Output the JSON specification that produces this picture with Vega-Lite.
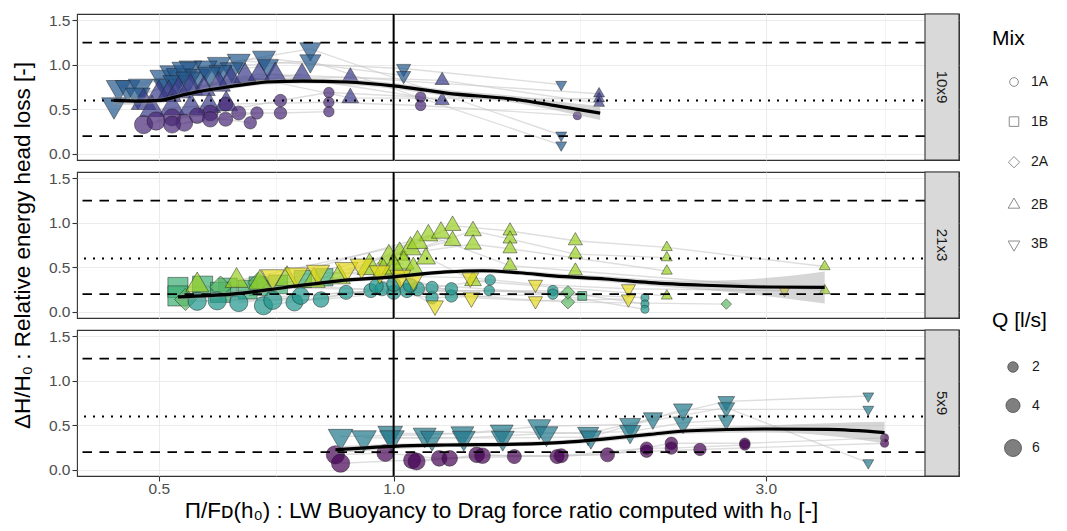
{
"$schema": "https://vega.github.io/schema/vega-lite/v6.json",
"padding": {"left": 10, "top": 12, "right": 0, "bottom": 0},
"background": "white",
"bounds": "flush",
"spacing": 12,
"resolve": {"scale": {"color": "shared", "shape": "shared", "size": "shared"}},
"datasets": {
"pts": [
{"mesh":"10x9","Mix":"3B","grp":"10x9 3B","run":"a1","Q":7,"ratio":0.438,"dH":0.55},
{"mesh":"10x9","Mix":"3B","grp":"10x9 3B","run":"a1","Q":6,"ratio":0.633,"dH":1.045},
{"mesh":"10x9","Mix":"3B","grp":"10x9 3B","run":"a1","Q":2,"ratio":1.03,"dH":0.96},
{"mesh":"10x9","Mix":"3B","grp":"10x9 3B","run":"a1","Q":1,"ratio":1.64,"dH":0.78},
{"mesh":"10x9","Mix":"3B","grp":"10x9 3B","run":"a2","Q":7,"ratio":0.444,"dH":0.745},
{"mesh":"10x9","Mix":"3B","grp":"10x9 3B","run":"a2","Q":6,"ratio":0.597,"dH":1.01},
{"mesh":"10x9","Mix":"3B","grp":"10x9 3B","run":"a2","Q":5,"ratio":0.782,"dH":1.18},
{"mesh":"10x9","Mix":"3B","grp":"10x9 3B","run":"a2","Q":1,"ratio":1.64,"dH":0.21},
{"mesh":"10x9","Mix":"3B","grp":"10x9 3B","run":"a3","Q":7,"ratio":0.456,"dH":0.745},
{"mesh":"10x9","Mix":"3B","grp":"10x9 3B","run":"a3","Q":6,"ratio":0.574,"dH":0.97},
{"mesh":"10x9","Mix":"3B","grp":"10x9 3B","run":"a3","Q":5,"ratio":0.782,"dH":1.045},
{"mesh":"10x9","Mix":"3B","grp":"10x9 3B","run":"a3","Q":1,"ratio":1.64,"dH":0.1},
{"mesh":"10x9","Mix":"3B","grp":"10x9 3B","run":"a4","Q":7,"ratio":0.474,"dH":0.76},
{"mesh":"10x9","Mix":"3B","grp":"10x9 3B","run":"a4","Q":6,"ratio":0.549,"dH":0.97},
{"mesh":"10x9","Mix":"3B","grp":"10x9 3B","run":"a4","Q":6,"ratio":0.682,"dH":1.08},
{"mesh":"10x9","Mix":"3B","grp":"10x9 3B","run":"a4","Q":2,"ratio":1.03,"dH":0.88},
{"mesh":"10x9","Mix":"3B","grp":"10x9 3B","run":"a5","Q":7,"ratio":0.505,"dH":0.86},
{"mesh":"10x9","Mix":"3B","grp":"10x9 3B","run":"a5","Q":5,"ratio":0.69,"dH":0.99},
{"mesh":"10x9","Mix":"3B","grp":"10x9 3B","run":"a6","Q":7,"ratio":0.52,"dH":0.91},
{"mesh":"10x9","Mix":"3B","grp":"10x9 3B","run":"a6","Q":6,"ratio":0.62,"dH":0.95},
{"mesh":"10x9","Mix":"3B","grp":"10x9 3B","run":"a7","Q":7,"ratio":0.53,"dH":0.88},
{"mesh":"10x9","Mix":"3B","grp":"10x9 3B","run":"a7","Q":6,"ratio":0.6,"dH":0.92},
{"mesh":"10x9","Mix":"3B","grp":"10x9 3B","run":"a8","Q":7,"ratio":0.539,"dH":0.95},
{"mesh":"10x9","Mix":"3B","grp":"10x9 3B","run":"a9","Q":7,"ratio":0.47,"dH":0.66},
{"mesh":"10x9","Mix":"3B","grp":"10x9 3B","run":"a9","Q":7,"ratio":0.56,"dH":0.87},
{"mesh":"10x9","Mix":"3B","grp":"10x9 3B","run":"a10","Q":7,"ratio":0.51,"dH":0.76},
{"mesh":"10x9","Mix":"3B","grp":"10x9 3B","run":"a10","Q":6,"ratio":0.58,"dH":0.9},
{"mesh":"10x9","Mix":"3B","grp":"10x9 3B","run":"a11","Q":7,"ratio":0.525,"dH":0.8},
{"mesh":"10x9","Mix":"3B","grp":"10x9 3B","run":"a12","Q":7,"ratio":0.545,"dH":0.84},
{"mesh":"10x9","Mix":"2B","grp":"10x9 2B","run":"b1","Q":7,"ratio":0.478,"dH":0.58},
{"mesh":"10x9","Mix":"2B","grp":"10x9 2B","run":"b1","Q":6,"ratio":0.618,"dH":0.84},
{"mesh":"10x9","Mix":"2B","grp":"10x9 2B","run":"b1","Q":3,"ratio":0.88,"dH":0.86},
{"mesh":"10x9","Mix":"2B","grp":"10x9 2B","run":"b1","Q":1,"ratio":1.834,"dH":0.676},
{"mesh":"10x9","Mix":"2B","grp":"10x9 2B","run":"b2","Q":7,"ratio":0.5,"dH":0.67},
{"mesh":"10x9","Mix":"2B","grp":"10x9 2B","run":"b2","Q":6,"ratio":0.645,"dH":0.875},
{"mesh":"10x9","Mix":"2B","grp":"10x9 2B","run":"b2","Q":3,"ratio":0.88,"dH":0.63},
{"mesh":"10x9","Mix":"2B","grp":"10x9 2B","run":"b2","Q":1,"ratio":1.834,"dH":0.62},
{"mesh":"10x9","Mix":"2B","grp":"10x9 2B","run":"b3","Q":7,"ratio":0.515,"dH":0.67},
{"mesh":"10x9","Mix":"2B","grp":"10x9 2B","run":"b3","Q":5,"ratio":0.672,"dH":0.895},
{"mesh":"10x9","Mix":"2B","grp":"10x9 2B","run":"b3","Q":2,"ratio":1.154,"dH":0.826},
{"mesh":"10x9","Mix":"2B","grp":"10x9 2B","run":"b3","Q":1,"ratio":1.834,"dH":0.57},
{"mesh":"10x9","Mix":"2B","grp":"10x9 2B","run":"b4","Q":7,"ratio":0.53,"dH":0.71},
{"mesh":"10x9","Mix":"2B","grp":"10x9 2B","run":"b4","Q":5,"ratio":0.705,"dH":0.895},
{"mesh":"10x9","Mix":"2B","grp":"10x9 2B","run":"b4","Q":2,"ratio":1.154,"dH":0.6},
{"mesh":"10x9","Mix":"2B","grp":"10x9 2B","run":"b5","Q":7,"ratio":0.549,"dH":0.745},
{"mesh":"10x9","Mix":"2B","grp":"10x9 2B","run":"b5","Q":4,"ratio":0.763,"dH":0.895},
{"mesh":"10x9","Mix":"2B","grp":"10x9 2B","run":"b6","Q":6,"ratio":0.571,"dH":0.73},
{"mesh":"10x9","Mix":"2B","grp":"10x9 2B","run":"b7","Q":6,"ratio":0.597,"dH":0.78},
{"mesh":"10x9","Mix":"2B","grp":"10x9 2B","run":"b8","Q":7,"ratio":0.49,"dH":0.5},
{"mesh":"10x9","Mix":"2B","grp":"10x9 2B","run":"b8","Q":6,"ratio":0.58,"dH":0.54},
{"mesh":"10x9","Mix":"2B","grp":"10x9 2B","run":"b9","Q":7,"ratio":0.52,"dH":0.52},
{"mesh":"10x9","Mix":"2B","grp":"10x9 2B","run":"b9","Q":6,"ratio":0.61,"dH":0.56},
{"mesh":"10x9","Mix":"2B","grp":"10x9 2B","run":"b10","Q":7,"ratio":0.55,"dH":0.52},
{"mesh":"10x9","Mix":"1A","grp":"10x9 1A","run":"c1","Q":7,"ratio":0.478,"dH":0.33},
{"mesh":"10x9","Mix":"1A","grp":"10x9 1A","run":"c1","Q":5,"ratio":0.582,"dH":0.46},
{"mesh":"10x9","Mix":"1A","grp":"10x9 1A","run":"c1","Q":3,"ratio":0.716,"dH":0.6},
{"mesh":"10x9","Mix":"1A","grp":"10x9 1A","run":"c1","Q":2,"ratio":0.826,"dH":0.69},
{"mesh":"10x9","Mix":"1A","grp":"10x9 1A","run":"c1","Q":2,"ratio":1.083,"dH":0.64},
{"mesh":"10x9","Mix":"1A","grp":"10x9 1A","run":"c2","Q":7,"ratio":0.496,"dH":0.37},
{"mesh":"10x9","Mix":"1A","grp":"10x9 1A","run":"c2","Q":4,"ratio":0.609,"dH":0.56},
{"mesh":"10x9","Mix":"1A","grp":"10x9 1A","run":"c2","Q":2,"ratio":0.826,"dH":0.58},
{"mesh":"10x9","Mix":"1A","grp":"10x9 1A","run":"c2","Q":2,"ratio":1.083,"dH":0.545},
{"mesh":"10x9","Mix":"1A","grp":"10x9 1A","run":"c2","Q":1,"ratio":1.72,"dH":0.43},
{"mesh":"10x9","Mix":"1A","grp":"10x9 1A","run":"c3","Q":6,"ratio":0.52,"dH":0.41},
{"mesh":"10x9","Mix":"1A","grp":"10x9 1A","run":"c3","Q":4,"ratio":0.633,"dH":0.46},
{"mesh":"10x9","Mix":"1A","grp":"10x9 1A","run":"c3","Q":3,"ratio":0.716,"dH":0.46},
{"mesh":"10x9","Mix":"1A","grp":"10x9 1A","run":"c3","Q":2,"ratio":0.826,"dH":0.475},
{"mesh":"10x9","Mix":"1A","grp":"10x9 1A","run":"c4","Q":6,"ratio":0.539,"dH":0.35},
{"mesh":"10x9","Mix":"1A","grp":"10x9 1A","run":"c4","Q":3,"ratio":0.668,"dH":0.46},
{"mesh":"10x9","Mix":"1A","grp":"10x9 1A","run":"c5","Q":6,"ratio":0.52,"dH":0.33},
{"mesh":"10x9","Mix":"1A","grp":"10x9 1A","run":"c5","Q":4,"ratio":0.609,"dH":0.39},
{"mesh":"10x9","Mix":"1A","grp":"10x9 1A","run":"c6","Q":5,"ratio":0.56,"dH":0.43},
{"mesh":"10x9","Mix":"1A","grp":"10x9 1A","run":"c6","Q":3,"ratio":0.655,"dH":0.35},
{"mesh":"10x9","Mix":"1A","grp":"10x9 1A","run":"c7","Q":5,"ratio":0.582,"dH":0.39},
{"mesh":"21x3","Mix":"1B","grp":"21x3 1B","run":"d1","Q":7,"ratio":0.529,"dH":0.275},
{"mesh":"21x3","Mix":"1B","grp":"21x3 1B","run":"d1","Q":6,"ratio":0.671,"dH":0.29},
{"mesh":"21x3","Mix":"1B","grp":"21x3 1B","run":"d1","Q":5,"ratio":0.815,"dH":0.39},
{"mesh":"21x3","Mix":"1B","grp":"21x3 1B","run":"d1","Q":1,"ratio":1.745,"dH":0.18},
{"mesh":"21x3","Mix":"1B","grp":"21x3 1B","run":"d2","Q":7,"ratio":0.529,"dH":0.18},
{"mesh":"21x3","Mix":"1B","grp":"21x3 1B","run":"d2","Q":6,"ratio":0.613,"dH":0.275},
{"mesh":"21x3","Mix":"1B","grp":"21x3 1B","run":"d3","Q":7,"ratio":0.569,"dH":0.29},
{"mesh":"21x3","Mix":"1B","grp":"21x3 1B","run":"d3","Q":6,"ratio":0.711,"dH":0.31},
{"mesh":"21x3","Mix":"1B","grp":"21x3 1B","run":"d3","Q":5,"ratio":0.765,"dH":0.37},
{"mesh":"21x3","Mix":"1B","grp":"21x3 1B","run":"d4","Q":7,"ratio":0.6,"dH":0.22},
{"mesh":"21x3","Mix":"1B","grp":"21x3 1B","run":"d4","Q":6,"ratio":0.65,"dH":0.25},
{"mesh":"21x3","Mix":"2A","grp":"21x3 2A","run":"e1","Q":6,"ratio":0.541,"dH":0.14},
{"mesh":"21x3","Mix":"2A","grp":"21x3 2A","run":"e1","Q":5,"ratio":0.67,"dH":0.33},
{"mesh":"21x3","Mix":"2A","grp":"21x3 2A","run":"e1","Q":2,"ratio":1.673,"dH":0.11},
{"mesh":"21x3","Mix":"2A","grp":"21x3 2A","run":"e1","Q":1,"ratio":2.67,"dH":0.088},
{"mesh":"21x3","Mix":"2A","grp":"21x3 2A","run":"e2","Q":6,"ratio":0.6,"dH":0.28},
{"mesh":"21x3","Mix":"2A","grp":"21x3 2A","run":"e2","Q":2,"ratio":1.673,"dH":0.22},
{"mesh":"21x3","Mix":"1A","grp":"21x3 1A","run":"f1","Q":7,"ratio":0.594,"dH":0.125},
{"mesh":"21x3","Mix":"1A","grp":"21x3 1A","run":"f1","Q":5,"ratio":0.807,"dH":0.14},
{"mesh":"21x3","Mix":"1A","grp":"21x3 1A","run":"f1","Q":4,"ratio":1.0,"dH":0.22},
{"mesh":"21x3","Mix":"1A","grp":"21x3 1A","run":"f1","Q":2,"ratio":1.326,"dH":0.24},
{"mesh":"21x3","Mix":"1A","grp":"21x3 1A","run":"f1","Q":1,"ratio":2.1,"dH":0.16},
{"mesh":"21x3","Mix":"1A","grp":"21x3 1A","run":"f2","Q":7,"ratio":0.633,"dH":0.106},
{"mesh":"21x3","Mix":"1A","grp":"21x3 1A","run":"f2","Q":4,"ratio":0.869,"dH":0.22},
{"mesh":"21x3","Mix":"1A","grp":"21x3 1A","run":"f2","Q":4,"ratio":1.04,"dH":0.24},
{"mesh":"21x3","Mix":"1A","grp":"21x3 1A","run":"f2","Q":2,"ratio":1.6,"dH":0.24},
{"mesh":"21x3","Mix":"1A","grp":"21x3 1A","run":"f2","Q":1,"ratio":2.1,"dH":0.09},
{"mesh":"21x3","Mix":"1A","grp":"21x3 1A","run":"f3","Q":7,"ratio":0.681,"dH":0.07},
{"mesh":"21x3","Mix":"1A","grp":"21x3 1A","run":"f3","Q":4,"ratio":0.935,"dH":0.24},
{"mesh":"21x3","Mix":"1A","grp":"21x3 1A","run":"f3","Q":3,"ratio":1.12,"dH":0.16},
{"mesh":"21x3","Mix":"1A","grp":"21x3 1A","run":"f3","Q":2,"ratio":1.6,"dH":0.2},
{"mesh":"21x3","Mix":"1A","grp":"21x3 1A","run":"f3","Q":1,"ratio":2.1,"dH":0.03},
{"mesh":"21x3","Mix":"1A","grp":"21x3 1A","run":"f4","Q":6,"ratio":0.746,"dH":0.106},
{"mesh":"21x3","Mix":"1A","grp":"21x3 1A","run":"f4","Q":4,"ratio":0.966,"dH":0.26},
{"mesh":"21x3","Mix":"1A","grp":"21x3 1A","run":"f4","Q":3,"ratio":1.186,"dH":0.18},
{"mesh":"21x3","Mix":"1A","grp":"21x3 1A","run":"f5","Q":7,"ratio":0.56,"dH":0.12},
{"mesh":"21x3","Mix":"1A","grp":"21x3 1A","run":"f5","Q":4,"ratio":1.073,"dH":0.26},
{"mesh":"21x3","Mix":"1A","grp":"21x3 1A","run":"f5","Q":3,"ratio":1.186,"dH":0.26},
{"mesh":"21x3","Mix":"1A","grp":"21x3 1A","run":"f6","Q":4,"ratio":0.95,"dH":0.29},
{"mesh":"21x3","Mix":"1A","grp":"21x3 1A","run":"f6","Q":3,"ratio":1.12,"dH":0.275},
{"mesh":"21x3","Mix":"1A","grp":"21x3 1A","run":"f6","Q":2,"ratio":1.33,"dH":0.36},
{"mesh":"21x3","Mix":"1A","grp":"21x3 1A","run":"f7","Q":4,"ratio":1.0,"dH":0.31},
{"mesh":"21x3","Mix":"1A","grp":"21x3 1A","run":"f7","Q":4,"ratio":1.05,"dH":0.3},
{"mesh":"21x3","Mix":"1A","grp":"21x3 1A","run":"f8","Q":7,"ratio":0.7,"dH":0.13},
{"mesh":"21x3","Mix":"1A","grp":"21x3 1A","run":"f8","Q":6,"ratio":0.76,"dH":0.18},
{"mesh":"21x3","Mix":"2B","grp":"21x3 2B","run":"g1","Q":7,"ratio":0.931,"dH":0.5},
{"mesh":"21x3","Mix":"2B","grp":"21x3 2B","run":"g1","Q":3,"ratio":1.19,"dH":0.97},
{"mesh":"21x3","Mix":"2B","grp":"21x3 2B","run":"g1","Q":2,"ratio":1.41,"dH":0.91},
{"mesh":"21x3","Mix":"2B","grp":"21x3 2B","run":"g1","Q":2,"ratio":1.71,"dH":0.8},
{"mesh":"21x3","Mix":"2B","grp":"21x3 2B","run":"g1","Q":1,"ratio":2.24,"dH":0.725},
{"mesh":"21x3","Mix":"2B","grp":"21x3 2B","run":"g1","Q":1,"ratio":3.57,"dH":0.51},
{"mesh":"21x3","Mix":"2B","grp":"21x3 2B","run":"g2","Q":6,"ratio":0.986,"dH":0.61},
{"mesh":"21x3","Mix":"2B","grp":"21x3 2B","run":"g2","Q":3,"ratio":1.264,"dH":0.91},
{"mesh":"21x3","Mix":"2B","grp":"21x3 2B","run":"g2","Q":2,"ratio":1.41,"dH":0.82},
{"mesh":"21x3","Mix":"2B","grp":"21x3 2B","run":"g2","Q":2,"ratio":1.71,"dH":0.65},
{"mesh":"21x3","Mix":"2B","grp":"21x3 2B","run":"g2","Q":1,"ratio":2.24,"dH":0.61},
{"mesh":"21x3","Mix":"2B","grp":"21x3 2B","run":"g3","Q":5,"ratio":1.018,"dH":0.65},
{"mesh":"21x3","Mix":"2B","grp":"21x3 2B","run":"g3","Q":3,"ratio":1.264,"dH":0.76},
{"mesh":"21x3","Mix":"2B","grp":"21x3 2B","run":"g3","Q":2,"ratio":1.41,"dH":0.71},
{"mesh":"21x3","Mix":"2B","grp":"21x3 2B","run":"g3","Q":1,"ratio":2.24,"dH":0.46},
{"mesh":"21x3","Mix":"2B","grp":"21x3 2B","run":"g4","Q":6,"ratio":0.851,"dH":0.39},
{"mesh":"21x3","Mix":"2B","grp":"21x3 2B","run":"g4","Q":4,"ratio":1.108,"dH":0.86},
{"mesh":"21x3","Mix":"2B","grp":"21x3 2B","run":"g4","Q":2,"ratio":1.41,"dH":0.52},
{"mesh":"21x3","Mix":"2B","grp":"21x3 2B","run":"g4","Q":2,"ratio":1.71,"dH":0.46},
{"mesh":"21x3","Mix":"2B","grp":"21x3 2B","run":"g4","Q":1,"ratio":3.57,"dH":0.24},
{"mesh":"21x3","Mix":"2B","grp":"21x3 2B","run":"g5","Q":6,"ratio":0.79,"dH":0.35},
{"mesh":"21x3","Mix":"2B","grp":"21x3 2B","run":"g5","Q":5,"ratio":1.051,"dH":0.71},
{"mesh":"21x3","Mix":"2B","grp":"21x3 2B","run":"g5","Q":3,"ratio":1.264,"dH":0.35},
{"mesh":"21x3","Mix":"2B","grp":"21x3 2B","run":"g5","Q":1,"ratio":2.24,"dH":0.18},
{"mesh":"21x3","Mix":"2B","grp":"21x3 2B","run":"g6","Q":6,"ratio":0.629,"dH":0.35},
{"mesh":"21x3","Mix":"2B","grp":"21x3 2B","run":"g6","Q":5,"ratio":1.073,"dH":0.78},
{"mesh":"21x3","Mix":"2B","grp":"21x3 2B","run":"g7","Q":6,"ratio":0.674,"dH":0.33},
{"mesh":"21x3","Mix":"2B","grp":"21x3 2B","run":"g7","Q":4,"ratio":1.15,"dH":0.89},
{"mesh":"21x3","Mix":"2B","grp":"21x3 2B","run":"g8","Q":6,"ratio":0.73,"dH":0.37},
{"mesh":"21x3","Mix":"2B","grp":"21x3 2B","run":"g8","Q":3,"ratio":1.19,"dH":0.8},
{"mesh":"21x3","Mix":"2B","grp":"21x3 2B","run":"g9","Q":6,"ratio":0.97,"dH":0.45},
{"mesh":"21x3","Mix":"2B","grp":"21x3 2B","run":"g9","Q":5,"ratio":1.03,"dH":0.55},
{"mesh":"21x3","Mix":"2B","grp":"21x3 2B","run":"g10","Q":6,"ratio":1.0,"dH":0.5},
{"mesh":"21x3","Mix":"2B","grp":"21x3 2B","run":"g10","Q":5,"ratio":1.06,"dH":0.48},
{"mesh":"21x3","Mix":"2B","grp":"21x3 2B","run":"g11","Q":4,"ratio":1.1,"dH":0.6},
{"mesh":"21x3","Mix":"2B","grp":"21x3 2B","run":"g12","Q":6,"ratio":0.56,"dH":0.3},
{"mesh":"21x3","Mix":"3B","grp":"21x3 3B","run":"h1","Q":6,"ratio":0.8,"dH":0.45},
{"mesh":"21x3","Mix":"3B","grp":"21x3 3B","run":"h1","Q":5,"ratio":1.02,"dH":0.4},
{"mesh":"21x3","Mix":"3B","grp":"21x3 3B","run":"h1","Q":3,"ratio":1.254,"dH":0.385},
{"mesh":"21x3","Mix":"3B","grp":"21x3 3B","run":"h1","Q":2,"ratio":1.52,"dH":0.31},
{"mesh":"21x3","Mix":"3B","grp":"21x3 3B","run":"h1","Q":2,"ratio":2.0,"dH":0.26},
{"mesh":"21x3","Mix":"3B","grp":"21x3 3B","run":"h1","Q":1,"ratio":3.17,"dH":0.24},
{"mesh":"21x3","Mix":"3B","grp":"21x3 3B","run":"h2","Q":6,"ratio":0.87,"dH":0.48},
{"mesh":"21x3","Mix":"3B","grp":"21x3 3B","run":"h2","Q":4,"ratio":1.06,"dH":0.36},
{"mesh":"21x3","Mix":"3B","grp":"21x3 3B","run":"h2","Q":3,"ratio":1.258,"dH":0.16},
{"mesh":"21x3","Mix":"3B","grp":"21x3 3B","run":"h2","Q":2,"ratio":1.52,"dH":0.125},
{"mesh":"21x3","Mix":"3B","grp":"21x3 3B","run":"h2","Q":2,"ratio":2.0,"dH":0.145},
{"mesh":"21x3","Mix":"3B","grp":"21x3 3B","run":"h3","Q":6,"ratio":0.91,"dH":0.52},
{"mesh":"21x3","Mix":"3B","grp":"21x3 3B","run":"h3","Q":3,"ratio":1.13,"dH":0.07},
{"mesh":"21x3","Mix":"3B","grp":"21x3 3B","run":"h4","Q":6,"ratio":0.75,"dH":0.42},
{"mesh":"21x3","Mix":"3B","grp":"21x3 3B","run":"h4","Q":5,"ratio":0.96,"dH":0.45},
{"mesh":"21x3","Mix":"3B","grp":"21x3 3B","run":"h5","Q":6,"ratio":0.7,"dH":0.4},
{"mesh":"5x9","Mix":"3B","grp":"5x9 3B","run":"i1","Q":7,"ratio":0.855,"dH":0.376},
{"mesh":"5x9","Mix":"3B","grp":"5x9 3B","run":"i1","Q":6,"ratio":1.096,"dH":0.395},
{"mesh":"5x9","Mix":"3B","grp":"5x9 3B","run":"i1","Q":6,"ratio":1.376,"dH":0.43},
{"mesh":"5x9","Mix":"3B","grp":"5x9 3B","run":"i1","Q":5,"ratio":1.776,"dH":0.41},
{"mesh":"5x9","Mix":"3B","grp":"5x9 3B","run":"i1","Q":4,"ratio":2.15,"dH":0.58},
{"mesh":"5x9","Mix":"3B","grp":"5x9 3B","run":"i1","Q":3,"ratio":2.67,"dH":0.77},
{"mesh":"5x9","Mix":"3B","grp":"5x9 3B","run":"i1","Q":1,"ratio":4.06,"dH":0.83},
{"mesh":"5x9","Mix":"3B","grp":"5x9 3B","run":"i2","Q":7,"ratio":0.916,"dH":0.36},
{"mesh":"5x9","Mix":"3B","grp":"5x9 3B","run":"i2","Q":6,"ratio":1.12,"dH":0.36},
{"mesh":"5x9","Mix":"3B","grp":"5x9 3B","run":"i2","Q":6,"ratio":1.38,"dH":0.36},
{"mesh":"5x9","Mix":"3B","grp":"5x9 3B","run":"i2","Q":5,"ratio":1.79,"dH":0.37},
{"mesh":"5x9","Mix":"3B","grp":"5x9 3B","run":"i2","Q":4,"ratio":2.35,"dH":0.68},
{"mesh":"5x9","Mix":"3B","grp":"5x9 3B","run":"i2","Q":1,"ratio":4.06,"dH":0.68},
{"mesh":"5x9","Mix":"3B","grp":"5x9 3B","run":"i3","Q":7,"ratio":0.99,"dH":0.41},
{"mesh":"5x9","Mix":"3B","grp":"5x9 3B","run":"i3","Q":6,"ratio":1.225,"dH":0.41},
{"mesh":"5x9","Mix":"3B","grp":"5x9 3B","run":"i3","Q":6,"ratio":1.537,"dH":0.49},
{"mesh":"5x9","Mix":"3B","grp":"5x9 3B","run":"i3","Q":5,"ratio":2.01,"dH":0.51},
{"mesh":"5x9","Mix":"3B","grp":"5x9 3B","run":"i3","Q":3,"ratio":2.67,"dH":0.7},
{"mesh":"5x9","Mix":"3B","grp":"5x9 3B","run":"i3","Q":1,"ratio":4.06,"dH":0.08},
{"mesh":"5x9","Mix":"3B","grp":"5x9 3B","run":"i4","Q":7,"ratio":0.995,"dH":0.36},
{"mesh":"5x9","Mix":"3B","grp":"5x9 3B","run":"i4","Q":6,"ratio":1.23,"dH":0.36},
{"mesh":"5x9","Mix":"3B","grp":"5x9 3B","run":"i4","Q":6,"ratio":1.57,"dH":0.41},
{"mesh":"5x9","Mix":"3B","grp":"5x9 3B","run":"i4","Q":5,"ratio":2.01,"dH":0.43},
{"mesh":"5x9","Mix":"3B","grp":"5x9 3B","run":"i4","Q":4,"ratio":2.35,"dH":0.53},
{"mesh":"5x9","Mix":"3B","grp":"5x9 3B","run":"i4","Q":3,"ratio":2.67,"dH":0.56},
{"mesh":"5x9","Mix":"1A","grp":"5x9 1A","run":"j1","Q":7,"ratio":0.842,"dH":0.17},
{"mesh":"5x9","Mix":"1A","grp":"5x9 1A","run":"j1","Q":6,"ratio":0.976,"dH":0.19},
{"mesh":"5x9","Mix":"1A","grp":"5x9 1A","run":"j1","Q":5,"ratio":1.144,"dH":0.13},
{"mesh":"5x9","Mix":"1A","grp":"5x9 1A","run":"j1","Q":4,"ratio":1.428,"dH":0.15},
{"mesh":"5x9","Mix":"1A","grp":"5x9 1A","run":"j1","Q":4,"ratio":1.88,"dH":0.17},
{"mesh":"5x9","Mix":"1A","grp":"5x9 1A","run":"j1","Q":3,"ratio":2.27,"dH":0.3},
{"mesh":"5x9","Mix":"1A","grp":"5x9 1A","run":"j1","Q":2,"ratio":2.82,"dH":0.3},
{"mesh":"5x9","Mix":"1A","grp":"5x9 1A","run":"j1","Q":1,"ratio":4.26,"dH":0.36},
{"mesh":"5x9","Mix":"1A","grp":"5x9 1A","run":"j2","Q":7,"ratio":0.855,"dH":0.076},
{"mesh":"5x9","Mix":"1A","grp":"5x9 1A","run":"j2","Q":6,"ratio":1.056,"dH":0.11},
{"mesh":"5x9","Mix":"1A","grp":"5x9 1A","run":"j2","Q":5,"ratio":1.18,"dH":0.13},
{"mesh":"5x9","Mix":"1A","grp":"5x9 1A","run":"j2","Q":5,"ratio":1.278,"dH":0.17},
{"mesh":"5x9","Mix":"1A","grp":"5x9 1A","run":"j2","Q":4,"ratio":1.62,"dH":0.15},
{"mesh":"5x9","Mix":"1A","grp":"5x9 1A","run":"j2","Q":3,"ratio":2.11,"dH":0.21},
{"mesh":"5x9","Mix":"1A","grp":"5x9 1A","run":"j2","Q":3,"ratio":2.47,"dH":0.23},
{"mesh":"5x9","Mix":"1A","grp":"5x9 1A","run":"j2","Q":1,"ratio":4.26,"dH":0.3},
{"mesh":"5x9","Mix":"1A","grp":"5x9 1A","run":"j3","Q":6,"ratio":1.07,"dH":0.095},
{"mesh":"5x9","Mix":"1A","grp":"5x9 1A","run":"j3","Q":5,"ratio":1.3,"dH":0.16},
{"mesh":"5x9","Mix":"1A","grp":"5x9 1A","run":"j3","Q":4,"ratio":1.64,"dH":0.16},
{"mesh":"5x9","Mix":"1A","grp":"5x9 1A","run":"j3","Q":3,"ratio":2.11,"dH":0.245},
{"mesh":"5x9","Mix":"1A","grp":"5x9 1A","run":"j3","Q":3,"ratio":2.27,"dH":0.245},
{"mesh":"5x9","Mix":"1A","grp":"5x9 1A","run":"j3","Q":2,"ratio":2.82,"dH":0.28}
],
"sm": [
{"mesh":"10x9","ratio":0.437,"fit":0.601,"lo":0.55,"hi":0.65},
{"mesh":"10x9","ratio":0.471,"fit":0.594,"lo":0.555,"hi":0.633},
{"mesh":"10x9","ratio":0.501,"fit":0.601,"lo":0.57,"hi":0.632},
{"mesh":"10x9","ratio":0.534,"fit":0.657,"lo":0.627,"hi":0.687},
{"mesh":"10x9","ratio":0.558,"fit":0.695,"lo":0.667,"hi":0.723},
{"mesh":"10x9","ratio":0.62,"fit":0.759,"lo":0.733,"hi":0.785},
{"mesh":"10x9","ratio":0.689,"fit":0.808,"lo":0.78,"hi":0.836},
{"mesh":"10x9","ratio":0.765,"fit":0.819,"lo":0.79,"hi":0.848},
{"mesh":"10x9","ratio":0.869,"fit":0.808,"lo":0.776,"hi":0.84},
{"mesh":"10x9","ratio":1.0,"fit":0.765,"lo":0.733,"hi":0.797},
{"mesh":"10x9","ratio":1.168,"fit":0.684,"lo":0.65,"hi":0.718},
{"mesh":"10x9","ratio":1.443,"fit":0.609,"lo":0.57,"hi":0.648},
{"mesh":"10x9","ratio":1.604,"fit":0.545,"lo":0.495,"hi":0.595},
{"mesh":"10x9","ratio":1.84,"fit":0.459,"lo":0.38,"hi":0.538},
{"mesh":"21x3","ratio":0.529,"fit":0.17,"lo":0.13,"hi":0.21},
{"mesh":"21x3","ratio":0.62,"fit":0.2,"lo":0.17,"hi":0.23},
{"mesh":"21x3","ratio":0.726,"fit":0.275,"lo":0.25,"hi":0.3},
{"mesh":"21x3","ratio":0.851,"fit":0.35,"lo":0.325,"hi":0.375},
{"mesh":"21x3","ratio":1.0,"fit":0.395,"lo":0.37,"hi":0.42},
{"mesh":"21x3","ratio":1.168,"fit":0.45,"lo":0.425,"hi":0.475},
{"mesh":"21x3","ratio":1.3,"fit":0.463,"lo":0.438,"hi":0.488},
{"mesh":"21x3","ratio":1.45,"fit":0.44,"lo":0.415,"hi":0.465},
{"mesh":"21x3","ratio":1.604,"fit":0.405,"lo":0.375,"hi":0.435},
{"mesh":"21x3","ratio":1.87,"fit":0.37,"lo":0.34,"hi":0.4},
{"mesh":"21x3","ratio":2.13,"fit":0.33,"lo":0.295,"hi":0.365},
{"mesh":"21x3","ratio":2.5,"fit":0.3,"lo":0.25,"hi":0.35},
{"mesh":"21x3","ratio":3.0,"fit":0.28,"lo":0.18,"hi":0.38},
{"mesh":"21x3","ratio":3.57,"fit":0.275,"lo":0.095,"hi":0.455},
{"mesh":"5x9","ratio":0.842,"fit":0.226,"lo":0.186,"hi":0.266},
{"mesh":"5x9","ratio":1.0,"fit":0.265,"lo":0.235,"hi":0.295},
{"mesh":"5x9","ratio":1.168,"fit":0.28,"lo":0.255,"hi":0.305},
{"mesh":"5x9","ratio":1.44,"fit":0.29,"lo":0.265,"hi":0.315},
{"mesh":"5x9","ratio":1.65,"fit":0.31,"lo":0.285,"hi":0.335},
{"mesh":"5x9","ratio":1.87,"fit":0.35,"lo":0.32,"hi":0.38},
{"mesh":"5x9","ratio":2.13,"fit":0.4,"lo":0.37,"hi":0.43},
{"mesh":"5x9","ratio":2.4,"fit":0.44,"lo":0.41,"hi":0.47},
{"mesh":"5x9","ratio":3.0,"fit":0.46,"lo":0.42,"hi":0.5},
{"mesh":"5x9","ratio":3.6,"fit":0.455,"lo":0.385,"hi":0.525},
{"mesh":"5x9","ratio":4.26,"fit":0.42,"lo":0.3,"hi":0.54}
]
},
"vconcat": [
 {"width": 882, "height": 146, "layer": [
  {"data": {"name": "pts"}, "transform": [{"filter": "datum.mesh == '10x9'"}],
   "mark": {"type": "line", "color": "#c8c8c8", "strokeWidth": 1.4, "opacity": 0.6, "clip": true},
   "encoding": {
    "x": {"field": "ratio", "type": "quantitative", "scale": {"type": "log", "domain": [0.3927, 5.307], "nice": false},
      "axis": {"title": null, "labels": false, "ticks": false, "values": [0.5, 0.7071, 1, 1.732, 3, 4.26], "gridWidth": {"condition": {"test": "datum.value==0.5||datum.value==1||datum.value==3", "value": 1.1}, "value": 0.55}}},
    "y": {"field": "dH", "type": "quantitative", "scale": {"domain": [-0.068, 1.572], "nice": false, "zero": false},
      "axis": {"title": null, "values": [0, 0.25, 0.5, 0.75, 1, 1.25, 1.5], "labelExpr": "datum.value % 0.5 == 0 ? format(datum.value, '.1f') : ''", "tickOpacity": {"condition": {"test": "datum.value % 0.5 == 0", "value": 1}, "value": 0}, "gridWidth": {"condition": {"test": "datum.value % 0.5 == 0", "value": 1.1}, "value": 0.55}, "labelOverlap": false, "labelFlush": false}},
    "detail": {"field": "run"}}},
  {"data": {"name": "pts"}, "transform": [{"filter": "datum.mesh == '10x9'"}],
   "mark": {"type": "point", "filled": true, "opacity": 1, "fillOpacity": 0.7, "stroke": "#222222", "strokeOpacity": 0.6, "strokeWidth": 0.8, "clip": true},
   "encoding": {
    "x": {"field": "ratio", "type": "quantitative", "scale": {"type": "log", "domain": [0.3927, 5.307], "nice": false}},
    "y": {"field": "dH", "type": "quantitative", "scale": {"domain": [-0.068, 1.572], "nice": false, "zero": false}},
    "color": {"field": "grp", "type": "nominal", "legend": null, "scale": {"domain": ["10x9 1A","10x9 2B","10x9 3B","21x3 1A","21x3 1B","21x3 2A","21x3 2B","21x3 3B","5x9 1A","5x9 3B"], "range": ["#482878","#3a3a8a","#24598e","#1f968b","#3aae74","#5fbb66","#98d021","#e5d81c","#440154","#21788c"]}},
    "shape": {"field": "Mix", "type": "nominal", "scale": {"domain": ["1A","1B","2A","2B","3B"], "range": ["circle", "M-1.1,-1.1L1.1,-1.1L1.1,1.1L-1.1,1.1Z", "M0,-1.3L1.3,0L0,1.3L-1.3,0Z", "M0,-1.56L1.35,0.78L-1.35,0.78Z", "M0,1.56L1.35,-0.78L-1.35,-0.78Z"]},
      "legend": {"title": "Mix", "orient": "none", "legendX": 915, "legendY": 14, "symbolSize": 75, "symbolFillColor": "white", "symbolStrokeColor": "#8c8c8c", "symbolStrokeWidth": 1, "symbolOffset": 15, "labelOffset": 10, "rowPadding": 25.6, "titlePadding": 26}},
    "size": {"field": "Q", "type": "quantitative", "scale": {"domain": [1, 7], "range": [65, 334], "zero": false},
      "legend": {"title": "Q [l/s]", "values": [2, 4, 6], "orient": "none", "legendX": 915, "legendY": 296, "symbolFillColor": "#7f7f7f", "symbolStrokeColor": "#4d4d4d", "symbolStrokeWidth": 0.8, "symbolOffset": 12, "labelOffset": 10, "rowPadding": 22, "titlePadding": 29}}}},
  {"data": {"name": "sm"}, "transform": [{"filter": "datum.mesh == '10x9'"}],
   "mark": {"type": "area", "color": "#999999", "opacity": 0.4, "interpolate": "monotone", "clip": true},
   "encoding": {"x": {"field": "ratio", "type": "quantitative", "scale": {"type": "log", "domain": [0.3927, 5.307], "nice": false}},
    "y": {"field": "lo", "type": "quantitative", "scale": {"domain": [-0.068, 1.572], "nice": false, "zero": false}}, "y2": {"field": "hi"}}},
  {"data": {"values": [{"dH": 0.2}, {"dH": 1.25}]}, "mark": {"type": "rule", "color": "#000000", "strokeWidth": 1.7, "strokeDash": [9.5, 7.5]},
   "encoding": {"y": {"field": "dH", "type": "quantitative", "scale": {"domain": [-0.068, 1.572], "nice": false, "zero": false}}}},
  {"data": {"values": [{"dH": 0.6}]}, "mark": {"type": "rule", "color": "#000000", "strokeWidth": 2, "strokeDash": [2, 7]},
   "encoding": {"y": {"field": "dH", "type": "quantitative", "scale": {"domain": [-0.068, 1.572], "nice": false, "zero": false}}}},
  {"data": {"values": [{"ratio": 1}]}, "mark": {"type": "rule", "color": "#000000", "strokeWidth": 2},
   "encoding": {"x": {"field": "ratio", "type": "quantitative", "scale": {"type": "log", "domain": [0.3927, 5.307], "nice": false}}}},
  {"data": {"name": "sm"}, "transform": [{"filter": "datum.mesh == '10x9'"}],
   "mark": {"type": "line", "color": "#000000", "strokeWidth": 3.2, "interpolate": "monotone", "clip": true},
   "encoding": {"x": {"field": "ratio", "type": "quantitative", "scale": {"type": "log", "domain": [0.3927, 5.307], "nice": false}},
    "y": {"field": "fit", "type": "quantitative", "scale": {"domain": [-0.068, 1.572], "nice": false, "zero": false}}}},
  {"data": {"values": [{"mesh": "10x9"}]}, "mark": {"type": "rect", "fill": "#d9d9d9", "stroke": "#333333", "strokeWidth": 1.1},
   "encoding": {"x": {"datum": 4.8, "type": "quantitative", "scale": {"type": "log", "domain": [0.3927, 5.307], "nice": false}}, "x2": {"datum": 5.307},
    "y": {"datum": -0.068, "type": "quantitative", "scale": {"domain": [-0.068, 1.572], "nice": false, "zero": false}}, "y2": {"datum": 1.572}}},
  {"data": {"values": [{"mesh": "10x9"}]}, "mark": {"type": "text", "angle": 90, "fontSize": 15, "color": "#1a1a1a", "align": "center", "baseline": "middle"},
   "encoding": {"x": {"datum": 5.047, "type": "quantitative", "scale": {"type": "log", "domain": [0.3927, 5.307], "nice": false}},
    "y": {"datum": 0.752, "type": "quantitative", "scale": {"domain": [-0.068, 1.572], "nice": false, "zero": false}}, "text": {"field": "mesh"}}}
 ]},
 {"width": 882, "height": 146, "layer": [
  {"data": {"name": "pts"}, "transform": [{"filter": "datum.mesh == '21x3'"}],
   "mark": {"type": "line", "color": "#c8c8c8", "strokeWidth": 1.4, "opacity": 0.6, "clip": true},
   "encoding": {
    "x": {"field": "ratio", "type": "quantitative", "scale": {"type": "log", "domain": [0.3927, 5.307], "nice": false},
      "axis": {"title": null, "labels": false, "ticks": false, "values": [0.5, 0.7071, 1, 1.732, 3, 4.26], "gridWidth": {"condition": {"test": "datum.value==0.5||datum.value==1||datum.value==3", "value": 1.1}, "value": 0.55}}},
    "y": {"field": "dH", "type": "quantitative", "scale": {"domain": [-0.068, 1.572], "nice": false, "zero": false},
      "axis": {"title": "ΔH/H₀ : Relative energy head loss [-]", "titlePadding": 14, "titleLimit": 600, "values": [0, 0.25, 0.5, 0.75, 1, 1.25, 1.5], "labelExpr": "datum.value % 0.5 == 0 ? format(datum.value, '.1f') : ''", "tickOpacity": {"condition": {"test": "datum.value % 0.5 == 0", "value": 1}, "value": 0}, "gridWidth": {"condition": {"test": "datum.value % 0.5 == 0", "value": 1.1}, "value": 0.55}, "labelOverlap": false, "labelFlush": false}},
    "detail": {"field": "run"}}},
  {"data": {"name": "pts"}, "transform": [{"filter": "datum.mesh == '21x3'"}],
   "mark": {"type": "point", "filled": true, "opacity": 1, "fillOpacity": 0.7, "stroke": "#222222", "strokeOpacity": 0.6, "strokeWidth": 0.8, "clip": true},
   "encoding": {
    "x": {"field": "ratio", "type": "quantitative", "scale": {"type": "log", "domain": [0.3927, 5.307], "nice": false}},
    "y": {"field": "dH", "type": "quantitative", "scale": {"domain": [-0.068, 1.572], "nice": false, "zero": false}},
    "color": {"field": "grp", "type": "nominal", "legend": null, "scale": {"domain": ["10x9 1A","10x9 2B","10x9 3B","21x3 1A","21x3 1B","21x3 2A","21x3 2B","21x3 3B","5x9 1A","5x9 3B"], "range": ["#482878","#3a3a8a","#24598e","#1f968b","#3aae74","#5fbb66","#98d021","#e5d81c","#440154","#21788c"]}},
    "shape": {"field": "Mix", "type": "nominal", "scale": {"domain": ["1A","1B","2A","2B","3B"], "range": ["circle", "M-1.1,-1.1L1.1,-1.1L1.1,1.1L-1.1,1.1Z", "M0,-1.3L1.3,0L0,1.3L-1.3,0Z", "M0,-1.56L1.35,0.78L-1.35,0.78Z", "M0,1.56L1.35,-0.78L-1.35,-0.78Z"]},
      "legend": {"title": "Mix", "orient": "none", "legendX": 915, "legendY": 14, "symbolSize": 75, "symbolFillColor": "white", "symbolStrokeColor": "#8c8c8c", "symbolStrokeWidth": 1, "symbolOffset": 15, "labelOffset": 10, "rowPadding": 25.6, "titlePadding": 26}},
    "size": {"field": "Q", "type": "quantitative", "scale": {"domain": [1, 7], "range": [65, 334], "zero": false},
      "legend": {"title": "Q [l/s]", "values": [2, 4, 6], "orient": "none", "legendX": 915, "legendY": 296, "symbolFillColor": "#7f7f7f", "symbolStrokeColor": "#4d4d4d", "symbolStrokeWidth": 0.8, "symbolOffset": 12, "labelOffset": 10, "rowPadding": 22, "titlePadding": 29}}}},
  {"data": {"name": "sm"}, "transform": [{"filter": "datum.mesh == '21x3'"}],
   "mark": {"type": "area", "color": "#999999", "opacity": 0.4, "interpolate": "monotone", "clip": true},
   "encoding": {"x": {"field": "ratio", "type": "quantitative", "scale": {"type": "log", "domain": [0.3927, 5.307], "nice": false}},
    "y": {"field": "lo", "type": "quantitative", "scale": {"domain": [-0.068, 1.572], "nice": false, "zero": false}}, "y2": {"field": "hi"}}},
  {"data": {"values": [{"dH": 0.2}, {"dH": 1.25}]}, "mark": {"type": "rule", "color": "#000000", "strokeWidth": 1.7, "strokeDash": [9.5, 7.5]},
   "encoding": {"y": {"field": "dH", "type": "quantitative", "scale": {"domain": [-0.068, 1.572], "nice": false, "zero": false}}}},
  {"data": {"values": [{"dH": 0.6}]}, "mark": {"type": "rule", "color": "#000000", "strokeWidth": 2, "strokeDash": [2, 7]},
   "encoding": {"y": {"field": "dH", "type": "quantitative", "scale": {"domain": [-0.068, 1.572], "nice": false, "zero": false}}}},
  {"data": {"values": [{"ratio": 1}]}, "mark": {"type": "rule", "color": "#000000", "strokeWidth": 2},
   "encoding": {"x": {"field": "ratio", "type": "quantitative", "scale": {"type": "log", "domain": [0.3927, 5.307], "nice": false}}}},
  {"data": {"name": "sm"}, "transform": [{"filter": "datum.mesh == '21x3'"}],
   "mark": {"type": "line", "color": "#000000", "strokeWidth": 3.2, "interpolate": "monotone", "clip": true},
   "encoding": {"x": {"field": "ratio", "type": "quantitative", "scale": {"type": "log", "domain": [0.3927, 5.307], "nice": false}},
    "y": {"field": "fit", "type": "quantitative", "scale": {"domain": [-0.068, 1.572], "nice": false, "zero": false}}}},
  {"data": {"values": [{"mesh": "21x3"}]}, "mark": {"type": "rect", "fill": "#d9d9d9", "stroke": "#333333", "strokeWidth": 1.1},
   "encoding": {"x": {"datum": 4.8, "type": "quantitative", "scale": {"type": "log", "domain": [0.3927, 5.307], "nice": false}}, "x2": {"datum": 5.307},
    "y": {"datum": -0.068, "type": "quantitative", "scale": {"domain": [-0.068, 1.572], "nice": false, "zero": false}}, "y2": {"datum": 1.572}}},
  {"data": {"values": [{"mesh": "21x3"}]}, "mark": {"type": "text", "angle": 90, "fontSize": 15, "color": "#1a1a1a", "align": "center", "baseline": "middle"},
   "encoding": {"x": {"datum": 5.047, "type": "quantitative", "scale": {"type": "log", "domain": [0.3927, 5.307], "nice": false}},
    "y": {"datum": 0.752, "type": "quantitative", "scale": {"domain": [-0.068, 1.572], "nice": false, "zero": false}}, "text": {"field": "mesh"}}}
 ]},
 {"width": 882, "height": 146, "layer": [
  {"data": {"name": "pts"}, "transform": [{"filter": "datum.mesh == '5x9'"}],
   "mark": {"type": "line", "color": "#c8c8c8", "strokeWidth": 1.4, "opacity": 0.6, "clip": true},
   "encoding": {
    "x": {"field": "ratio", "type": "quantitative", "scale": {"type": "log", "domain": [0.3927, 5.307], "nice": false},
      "axis": {"title": "Π/Fᴅ(h₀) : LW Buoyancy to Drag force ratio computed with h₀ [-]", "titlePadding": 3, "titleX": 424, "labelPadding": 0, "values": [0.5, 0.7071, 1, 1.732, 3, 4.26], "labelExpr": "(datum.value==0.5||datum.value==1||datum.value==3) ? format(datum.value, '.1f') : ''", "tickOpacity": {"condition": {"test": "datum.value==0.5||datum.value==1||datum.value==3", "value": 1}, "value": 0}, "gridWidth": {"condition": {"test": "datum.value==0.5||datum.value==1||datum.value==3", "value": 1.1}, "value": 0.55}, "labelOverlap": false, "labelFlush": false}},
    "y": {"field": "dH", "type": "quantitative", "scale": {"domain": [-0.068, 1.572], "nice": false, "zero": false},
      "axis": {"title": null, "values": [0, 0.25, 0.5, 0.75, 1, 1.25, 1.5], "labelExpr": "datum.value % 0.5 == 0 ? format(datum.value, '.1f') : ''", "tickOpacity": {"condition": {"test": "datum.value % 0.5 == 0", "value": 1}, "value": 0}, "gridWidth": {"condition": {"test": "datum.value % 0.5 == 0", "value": 1.1}, "value": 0.55}, "labelOverlap": false, "labelFlush": false}},
    "detail": {"field": "run"}}},
  {"data": {"name": "pts"}, "transform": [{"filter": "datum.mesh == '5x9'"}],
   "mark": {"type": "point", "filled": true, "opacity": 1, "fillOpacity": 0.7, "stroke": "#222222", "strokeOpacity": 0.6, "strokeWidth": 0.8, "clip": true},
   "encoding": {
    "x": {"field": "ratio", "type": "quantitative", "scale": {"type": "log", "domain": [0.3927, 5.307], "nice": false}},
    "y": {"field": "dH", "type": "quantitative", "scale": {"domain": [-0.068, 1.572], "nice": false, "zero": false}},
    "color": {"field": "grp", "type": "nominal", "legend": null, "scale": {"domain": ["10x9 1A","10x9 2B","10x9 3B","21x3 1A","21x3 1B","21x3 2A","21x3 2B","21x3 3B","5x9 1A","5x9 3B"], "range": ["#482878","#3a3a8a","#24598e","#1f968b","#3aae74","#5fbb66","#98d021","#e5d81c","#440154","#21788c"]}},
    "shape": {"field": "Mix", "type": "nominal", "scale": {"domain": ["1A","1B","2A","2B","3B"], "range": ["circle", "M-1.1,-1.1L1.1,-1.1L1.1,1.1L-1.1,1.1Z", "M0,-1.3L1.3,0L0,1.3L-1.3,0Z", "M0,-1.56L1.35,0.78L-1.35,0.78Z", "M0,1.56L1.35,-0.78L-1.35,-0.78Z"]},
      "legend": {"title": "Mix", "orient": "none", "legendX": 915, "legendY": 14, "symbolSize": 75, "symbolFillColor": "white", "symbolStrokeColor": "#8c8c8c", "symbolStrokeWidth": 1, "symbolOffset": 15, "labelOffset": 10, "rowPadding": 25.6, "titlePadding": 26}},
    "size": {"field": "Q", "type": "quantitative", "scale": {"domain": [1, 7], "range": [65, 334], "zero": false},
      "legend": {"title": "Q [l/s]", "values": [2, 4, 6], "orient": "none", "legendX": 915, "legendY": 296, "symbolFillColor": "#7f7f7f", "symbolStrokeColor": "#4d4d4d", "symbolStrokeWidth": 0.8, "symbolOffset": 12, "labelOffset": 10, "rowPadding": 22, "titlePadding": 29}}}},
  {"data": {"name": "sm"}, "transform": [{"filter": "datum.mesh == '5x9'"}],
   "mark": {"type": "area", "color": "#999999", "opacity": 0.4, "interpolate": "monotone", "clip": true},
   "encoding": {"x": {"field": "ratio", "type": "quantitative", "scale": {"type": "log", "domain": [0.3927, 5.307], "nice": false}},
    "y": {"field": "lo", "type": "quantitative", "scale": {"domain": [-0.068, 1.572], "nice": false, "zero": false}}, "y2": {"field": "hi"}}},
  {"data": {"values": [{"dH": 0.2}, {"dH": 1.25}]}, "mark": {"type": "rule", "color": "#000000", "strokeWidth": 1.7, "strokeDash": [9.5, 7.5]},
   "encoding": {"y": {"field": "dH", "type": "quantitative", "scale": {"domain": [-0.068, 1.572], "nice": false, "zero": false}}}},
  {"data": {"values": [{"dH": 0.6}]}, "mark": {"type": "rule", "color": "#000000", "strokeWidth": 2, "strokeDash": [2, 7]},
   "encoding": {"y": {"field": "dH", "type": "quantitative", "scale": {"domain": [-0.068, 1.572], "nice": false, "zero": false}}}},
  {"data": {"values": [{"ratio": 1}]}, "mark": {"type": "rule", "color": "#000000", "strokeWidth": 2},
   "encoding": {"x": {"field": "ratio", "type": "quantitative", "scale": {"type": "log", "domain": [0.3927, 5.307], "nice": false}}}},
  {"data": {"name": "sm"}, "transform": [{"filter": "datum.mesh == '5x9'"}],
   "mark": {"type": "line", "color": "#000000", "strokeWidth": 3.2, "interpolate": "monotone", "clip": true},
   "encoding": {"x": {"field": "ratio", "type": "quantitative", "scale": {"type": "log", "domain": [0.3927, 5.307], "nice": false}},
    "y": {"field": "fit", "type": "quantitative", "scale": {"domain": [-0.068, 1.572], "nice": false, "zero": false}}}},
  {"data": {"values": [{"mesh": "5x9"}]}, "mark": {"type": "rect", "fill": "#d9d9d9", "stroke": "#333333", "strokeWidth": 1.1},
   "encoding": {"x": {"datum": 4.8, "type": "quantitative", "scale": {"type": "log", "domain": [0.3927, 5.307], "nice": false}}, "x2": {"datum": 5.307},
    "y": {"datum": -0.068, "type": "quantitative", "scale": {"domain": [-0.068, 1.572], "nice": false, "zero": false}}, "y2": {"datum": 1.572}}},
  {"data": {"values": [{"mesh": "5x9"}]}, "mark": {"type": "text", "angle": 90, "fontSize": 15, "color": "#1a1a1a", "align": "center", "baseline": "middle"},
   "encoding": {"x": {"datum": 5.047, "type": "quantitative", "scale": {"type": "log", "domain": [0.3927, 5.307], "nice": false}},
    "y": {"datum": 0.752, "type": "quantitative", "scale": {"domain": [-0.068, 1.572], "nice": false, "zero": false}}, "text": {"field": "mesh"}}}
 ]}
],
"config": {
 "font": "Liberation Sans",
 "view": {"stroke": "#333333", "strokeWidth": 1.1},
 "axis": {"domain": false, "gridColor": "#ebebeb", "tickColor": "#333333", "tickSize": 5, "tickWidth": 1.1, "labelColor": "#4d4d4d", "labelFontSize": 15.5, "labelPadding": 2, "titleFontSize": 22.5, "titleFontWeight": "normal", "titleColor": "#000000"},
 "legend": {"titleFontSize": 21, "titleFontWeight": "normal", "titleColor": "#000000", "labelFontSize": 14, "labelColor": "#1a1a1a"}
}
}
